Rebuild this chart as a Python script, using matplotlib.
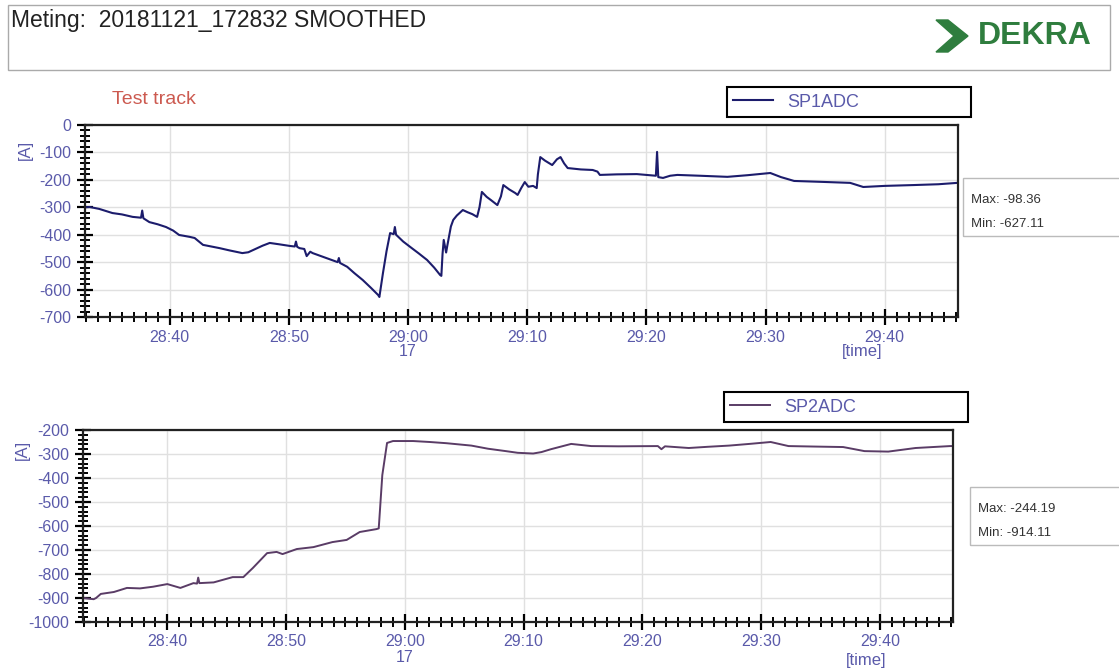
import numpy as np
import matplotlib
matplotlib.use("Agg")
import matplotlib.pyplot as plt
from matplotlib.ticker import MultipleLocator, FuncFormatter
from matplotlib.patches import Rectangle, Polygon

plt.rcParams['font.family'] = ['Liberation Sans', 'DejaVu Sans']
plt.rcParams['axes.unicode_minus'] = False

# time in seconds after 28:00
sp1_t = [32.9, 33.3, 34.1, 35.2, 36.0, 36.9, 37.6, 37.7, 37.8, 38.3, 39.0, 39.7, 40.3, 40.8, 41.2,
         41.7, 42.1, 42.8, 43.5, 44.2, 45.0, 46.1, 46.6, 47.0, 47.8, 48.4, 49.2, 50.1, 50.5, 50.6,
         50.7, 50.9, 51.3, 51.5, 51.8, 52.0, 52.7, 53.4, 54.1, 54.2, 54.3, 54.9, 55.5, 56.2, 56.9,
         57.5, 57.6, 57.9, 58.2, 58.5, 58.8, 58.9, 59.0, 59.6, 60.2, 60.9, 61.6, 62.2, 62.7, 62.8,
         62.9, 63.0, 63.2, 63.3, 63.6, 63.8, 64.1, 64.4, 64.6, 65.0, 65.4, 65.8, 66.0, 66.2, 66.6,
         67.0, 67.5, 67.8, 68.0, 68.5, 69.0, 69.2, 69.5, 69.8, 70.1, 70.5, 70.8, 70.9, 71.1, 71.5,
         72.1, 72.5, 72.8, 73.1, 73.4, 74.5, 75.5, 75.9, 76.1, 77.5, 79.2, 80.8, 80.9, 81.0, 81.4,
         82.0, 82.6, 84.5, 86.8, 88.5, 90.4, 91.3, 92.4, 94.5, 97.1, 98.2, 100.0, 102.4, 104.5, 106.1]
sp1_v = [-300, -299, -306, -321, -326, -335, -338, -312, -340, -354, -362, -372, -385, -401, -404,
         -408, -412, -437, -443, -449, -457, -467, -464, -456, -440, -430, -435, -441, -443, -425,
         -444, -449, -452, -478, -462, -467, -478, -489, -500, -485, -503, -517, -540, -565, -594,
         -620, -627, -540, -460, -394, -398, -372, -400, -425, -445, -468, -492, -520, -547, -550,
         -470, -419, -465, -440, -370, -346, -330, -318, -310, -318, -325, -335, -300, -244, -262,
         -275, -292, -260, -219, -235, -248, -255, -230, -208, -225, -222, -230, -180, -117, -130,
         -146, -125, -117, -140, -157, -162, -164, -170, -182, -180, -179, -185, -98, -190, -193,
         -185, -182, -185, -189, -183, -175, -190, -204, -207, -211, -226, -222, -219, -216, -211]

sp2_t = [32.9, 33.8, 34.0, 34.4, 35.5, 36.6, 37.7, 38.8, 40.0, 41.1, 42.2, 42.5, 42.6, 42.7, 43.9,
         45.5, 46.4, 47.2, 48.4, 49.2, 49.7, 50.9, 52.3, 53.9, 55.1, 56.2, 57.6, 57.8, 58.1, 58.5,
         59.0, 60.7, 62.1, 63.5, 65.6, 67.0, 68.5, 69.5, 70.8, 71.5, 72.3, 74.0, 75.7, 78.0, 81.3,
         81.6, 81.9, 83.9, 85.5, 87.3, 89.0, 90.8, 92.3, 94.5, 96.9, 98.7, 100.7, 103.0, 105.9, 106.1]
sp2_v = [-900, -905, -900, -883, -875, -858, -860, -853, -842, -858, -838, -840, -815, -838, -835,
         -813, -813, -775, -713, -708, -717, -696, -688, -667, -658, -625, -613, -610, -388, -254,
         -246, -246, -250, -255, -265, -278, -288, -295, -298, -292, -280, -258, -267, -268, -267,
         -280, -268, -275, -270, -265, -258, -250, -267, -269, -271, -288, -290, -275, -267, -267]

sp1_stats = ["Max: -98.36", "Min: -627.11"]
sp2_stats = ["Max: -244.19", "Min: -914.11"]

tick_col = '#5a5aaa'


def fmt_time(t, pos):
    m = 28 + int(t // 60)
    s = int(round(t % 60))
    lab = f"{m}:{s:02d}"
    if m == 29 and s == 0:
        lab += "\n17"
    return lab


def style_axes(ax, ylo, yhi):
    ax.set_xlim(32.9, 106.15)
    ax.set_ylim(ylo, yhi)
    ax.xaxis.set_major_locator(MultipleLocator(10))
    ax.xaxis.set_minor_locator(MultipleLocator(1))
    ax.yaxis.set_major_locator(MultipleLocator(100))
    ax.yaxis.set_minor_locator(MultipleLocator(20))
    ax.xaxis.set_major_formatter(FuncFormatter(fmt_time))
    ax.tick_params(which='major', direction='inout', length=12, width=1.6, color='black',
                   labelsize=11.5, labelcolor=tick_col, pad=4)
    ax.tick_params(which='minor', direction='inout', length=7, width=1.4, color='black')
    ax.tick_params(axis='x', which='major', pad=3)
    for sp in ax.spines.values():
        sp.set_linewidth(1.6)
        sp.set_color('#222222')
    ax.grid(True, which='major', color='#e0e0e0', linewidth=1)
    ax.set_axisbelow(True)
    for lab in ax.get_xticklabels():
        lab.set_linespacing(1.0)


fig = plt.figure(figsize=(11.19, 6.72), dpi=100)

# header
fig.patches.append(Rectangle((8 / 1119, 1 - 70 / 672), 1102 / 1119, 65 / 672,
                             transform=fig.transFigure, fill=False, edgecolor='#aaaaaa', lw=1))
fig.text(11 / 1119, 1 - 20 / 672, "Meting:  20181121_172832 SMOOTHED", fontsize=16.5,
         va='center', ha='left', color='#222222')
fig.text(978 / 1119, 1 - 36 / 672, "DEKRA", fontsize=23, fontweight='bold', color='#2f7d3e',
         va='center', ha='left')
chev = [(936, 20), (948, 20), (968, 36), (948, 52), (936, 52), (954, 36)]
fig.patches.append(Polygon([(x / 1119, 1 - y / 672) for x, y in chev], closed=True,
                           transform=fig.transFigure, color='#2f7d3e'))

# top chart
ax1 = fig.add_axes([85 / 1119, 1 - 317 / 672, 873 / 1119, 192 / 672])
ax1.plot(sp1_t, sp1_v, color='#1c1c6c', lw=1.5, label='SP1ADC')
style_axes(ax1, -700, 0)
ax1.text(-0.068, 0.87, "[A]", transform=ax1.transAxes, rotation=90, color=tick_col,
         fontsize=12, ha='center', va='center')
ax1.text(0.89, -0.18, "[time]", transform=ax1.transAxes, color=tick_col, fontsize=12,
         ha='center', va='center')
fig.text(112 / 1119, 1 - 100 / 672, "Test track", fontsize=14, color='#cc5a50',
         va='center', ha='left')
ax1.legend(loc='lower left', bbox_to_anchor=(727 / 1119, 1 - 117 / 672, 244 / 1119, 32 / 672),
           bbox_transform=fig.transFigure, mode='expand', fancybox=False, edgecolor='black',
           framealpha=1, fontsize=13, labelcolor=tick_col, borderaxespad=0,
           handlelength=2.2, borderpad=0.35).get_frame().set_linewidth(1.5)

# bottom chart
ax2 = fig.add_axes([83 / 1119, 1 - 622 / 672, 870 / 1119, 192 / 672])
ax2.plot(sp2_t, sp2_v, color='#5a3c66', lw=1.4, label='SP2ADC')
style_axes(ax2, -1000, -200)
ax2.text(-0.07, 0.895, "[A]", transform=ax2.transAxes, rotation=90, color=tick_col,
         fontsize=12, ha='center', va='center')
ax2.text(0.9, -0.2, "[time]", transform=ax2.transAxes, color=tick_col, fontsize=12,
         ha='center', va='center')
ax2.legend(loc='lower left', bbox_to_anchor=(724 / 1119, 1 - 422 / 672, 244 / 1119, 32 / 672),
           bbox_transform=fig.transFigure, mode='expand', fancybox=False, edgecolor='black',
           framealpha=1, fontsize=13, labelcolor=tick_col, borderaxespad=0,
           handlelength=2.2, borderpad=0.35).get_frame().set_linewidth(1.5)

# stats boxes
for (x0, y0, y1), stats in [((963, 178, 236), sp1_stats), ((970, 487, 545), sp2_stats)]:
    fig.patches.append(Rectangle((x0 / 1119, 1 - y1 / 672), (1125 - x0) / 1119, (y1 - y0) / 672,
                                 transform=fig.transFigure, fill=False, edgecolor='#bbbbbb', lw=1))
    fig.text((x0 + 8) / 1119, 1 - (y0 + 22) / 672, stats[0], fontsize=9.5, color='#333333',
             va='center', ha='left')
    fig.text((x0 + 8) / 1119, 1 - (y0 + 46) / 672, stats[1], fontsize=9.5, color='#333333',
             va='center', ha='left')

fig.savefig("out.png", dpi=100)
